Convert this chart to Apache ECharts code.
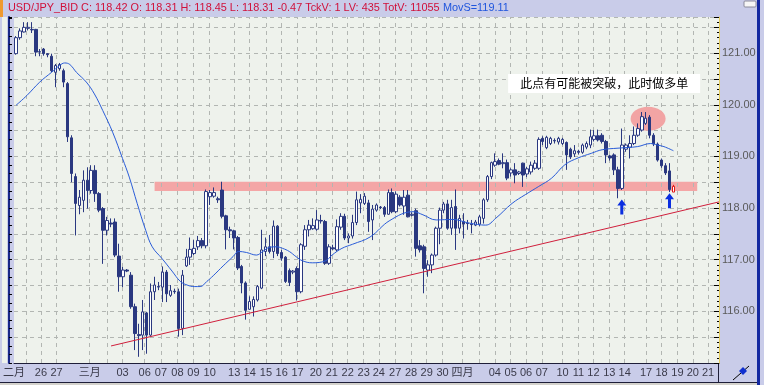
<!DOCTYPE html>
<html><head><meta charset="utf-8">
<script src="https://cdn.jsdelivr.net/npm/echarts@6/dist/echarts.min.js"></script>
<style>html,body{margin:0;padding:0;background:#c9cce9;}#c{width:764px;height:385px;}</style>
</head><body><div id="c"></div>
<script>
// ---- data ----
const opens = [120.99,121.30,121.41,121.48,121.46,121.46,121.02,121.08,120.99,120.94,
120.63,120.70,120.66,120.41,119.36,118.61,118.05,118.15,118.54,118.34,
118.73,118.28,117.99,117.57,117.71,117.73,117.07,116.67,116.80,116.70,
116.09,115.55,115.54,115.97,115.54,116.38,116.48,116.47,116.76,116.31,
116.39,116.38,115.67,116.88,117.05,117.12,117.25,117.37,117.27,118.22,
118.23,118.18,118.35,117.85,117.58,117.56,117.43,116.87,116.55,116.04,
116.09,116.22,116.45,117.16,117.25,117.16,117.65,117.14,117.05,116.79,
116.76,116.83,116.38,117.26,117.58,117.60,117.59,117.76,117.74,116.93,
117.23,117.19,117.63,117.84,117.42,117.46,117.72,118.10,118.09,118.10,
117.77,117.96,118.02,118.01,117.88,118.30,117.93,118.21,118.04,118.25,
117.86,117.95,117.27,117.25,116.80,116.90,117.09,117.61,117.96,118.08,
117.61,118.03,117.61,117.74,117.71,117.69,117.67,117.69,117.80,118.16,
118.61,118.83,118.92,118.86,118.88,118.68,118.74,118.67,118.87,118.66,
118.70,118.77,118.77,119.35,119.17,119.25,119.31,119.28,119.25,119.27,
119.14,119.05,119.10,119.08,119.18,119.22,119.33,119.40,119.41,119.29,
119.01,119.03,118.74,118.38,119.14,119.18,119.25,119.41,119.51,119.64,
119.76,119.41,119.24,118.93,118.82,118.72,118.31];
const closes = [121.30,121.43,121.50,121.50,121.45,121.02,121.03,120.99,120.97,120.66,
120.76,120.78,120.44,119.38,118.67,118.09,118.21,118.54,118.34,118.73,
118.28,117.96,117.57,117.76,117.69,117.09,116.67,116.80,116.78,116.09,
115.57,115.53,115.99,115.54,116.38,116.51,116.47,116.76,116.34,116.40,
116.38,115.67,116.70,117.05,117.20,117.22,117.37,117.27,118.32,118.30,
118.30,118.16,117.84,117.58,117.56,117.42,116.84,116.55,116.02,116.19,
116.23,116.48,117.19,117.25,117.16,117.65,117.12,117.03,116.58,116.56,
116.78,116.38,117.29,117.58,117.67,117.66,117.77,117.75,116.93,117.25,
117.21,117.64,117.84,117.42,117.46,117.72,118.16,118.17,118.23,117.74,
117.98,118.06,118.01,117.88,118.30,117.93,118.27,118.06,118.21,117.83,
117.88,117.22,117.19,116.83,116.90,117.09,117.61,117.96,118.08,117.61,
118.01,117.61,117.80,117.69,117.70,117.68,117.73,117.83,118.16,118.61,
118.88,118.90,118.85,118.88,118.58,118.74,118.64,118.70,118.64,118.76,
118.83,118.87,119.33,119.29,119.37,119.35,119.30,119.35,119.33,119.03,
118.99,119.11,119.08,119.22,119.25,119.38,119.40,119.32,119.29,119.03,
118.97,118.74,118.38,119.22,119.22,119.25,119.41,119.54,119.77,119.74,
119.41,119.24,118.93,118.82,118.68,118.36,118.42];
const lows = [120.97,121.26,121.40,121.44,121.39,120.94,120.94,120.95,120.92,120.63,
120.34,120.66,120.34,119.28,118.50,117.47,117.88,117.92,117.99,118.28,
118.12,117.92,116.92,117.47,117.63,117.05,116.38,116.47,116.76,116.05,
115.25,115.12,115.25,115.18,115.51,116.22,116.41,116.18,116.18,116.28,
116.34,115.51,115.54,116.86,116.90,117.09,117.19,117.22,117.22,118.06,
118.20,118.10,117.80,117.20,117.42,117.20,116.80,116.35,115.84,116.03,
115.90,116.19,116.43,117.07,117.12,117.03,117.07,116.98,116.55,116.49,
116.72,116.21,116.35,117.19,117.45,117.58,117.56,117.70,116.90,116.90,
117.19,117.16,117.58,117.38,117.32,117.41,117.67,117.90,118.06,117.54,
117.38,117.93,117.98,117.83,117.87,117.90,117.90,118.03,117.87,117.82,
117.84,117.06,117.14,116.35,116.67,116.74,117.06,117.30,117.90,117.58,
117.48,117.19,117.51,117.41,117.58,117.51,117.65,117.65,117.70,118.12,
118.56,118.80,118.83,118.77,118.54,118.61,118.48,118.64,118.41,118.60,
118.65,118.74,118.74,119.22,119.14,119.22,119.25,119.23,119.22,118.74,
118.95,118.99,119.04,119.05,119.14,119.16,119.29,119.29,119.25,118.87,
118.92,118.64,118.19,118.35,119.09,118.96,119.22,119.38,119.48,119.61,
119.35,119.20,118.90,118.78,118.64,118.31,118.31];
const highs = [121.33,121.48,121.60,121.60,121.60,121.47,121.08,121.10,121.00,120.99,
120.79,120.81,120.70,120.44,119.41,118.67,118.35,118.73,118.79,118.83,
118.83,118.31,118.02,117.83,117.80,117.80,117.31,116.86,116.82,116.76,
116.15,115.76,116.22,115.99,116.54,116.67,116.57,116.87,116.80,116.51,
116.44,116.44,116.80,117.21,117.43,117.38,117.46,117.42,118.36,118.35,
118.40,118.22,118.51,117.87,117.64,117.58,117.46,116.90,116.58,116.29,
116.29,116.51,117.58,117.43,117.48,117.76,117.67,117.19,117.07,116.83,
116.80,116.87,117.32,117.67,117.77,117.80,117.96,117.87,117.77,117.30,
117.29,117.78,117.90,117.89,117.51,117.87,118.32,118.27,118.29,118.16,
118.06,118.09,118.04,118.04,118.36,118.38,118.32,118.25,118.35,118.35,
117.92,117.99,117.38,117.29,116.99,117.12,117.64,118.01,118.12,118.16,
118.16,118.36,117.87,117.90,117.77,117.77,117.77,117.87,118.19,118.64,
118.90,119.06,118.96,119.06,118.94,118.77,118.87,118.72,118.88,118.80,
118.90,118.93,119.37,119.39,119.40,119.38,119.35,119.38,119.36,119.29,
119.17,119.22,119.13,119.25,119.29,119.52,119.51,119.52,119.45,119.32,
119.03,119.06,118.80,119.54,119.25,119.41,119.58,119.64,119.86,119.86,
119.80,119.45,119.27,118.96,118.87,118.87,118.45];

// moving average curve, read as (bar position, value)
const maX = [0,2.75,6,9,11,12.3,13.6,15.25,17.75,19.8,21.9,24.4,26.9,28.6,30.6,32.75,34.4,36.9,39.4,41.5,
43.2,45,46.5,48.2,49.8,52.3,54.8,56.2,58.2,60.7,62.3,64,65.7,67.3,69,70.7,72.3,74.8,78.2,79.8,
82.3,85,89.4,94.4,100.25,102.75,106.1,110.25,114.4,118.6,121.1,125.25,128.6,132,135.25,138.6,141.9,145.25,148,152,
156.9,160.25,162,163.6,166];
const maY = [119.99,120.18,120.44,120.63,120.76,120.81,120.78,120.63,120.44,120.21,119.89,119.47,118.96,118.60,118.09,117.57,117.25,117.02,116.78,116.58,
116.51,116.48,116.48,116.58,116.69,116.88,117.06,117.16,117.14,117.09,117.16,117.24,117.25,117.22,117.16,117.06,116.98,116.94,116.98,117.09,
117.22,117.30,117.44,117.76,117.93,117.87,117.77,117.78,117.71,117.67,117.80,118.09,118.26,118.42,118.58,118.84,118.97,119.06,119.13,119.16,
119.19,119.25,119.22,119.19,119.11];

// date labels along the bottom and where they sit (bar position)
const dayLabels = ['二月','26','27','三月','03','06','07','08','09','10','13','14','15','16','17','20','21','22','23','24',
'27','28','29','30','四月','04','05','06','07','10','11','12','13','14','17','18','19','20','21'];
const dayPos = [-0.5,6.3,10.25,18.6,26.9,32.5,36.6,40.75,44.8,48.9,55.1,59,63.1,67.1,71.1,75.7,79.75,83.75,87.8,91.6,
95.75,99.75,103.7,107.7,112.75,120.9,124.9,128.8,132.75,138,142,145.8,149.8,153.7,159.1,163,167,170.9,174.75];
const extraGridPos = [2.5, 23, 117];

// annotations
const trendX = [24, 177.5], trendY = [115.33, 118.12];
const bandX = [35, 172], bandY = [118.33, 118.51];
const ellipsePos = [159.6, 119.73];
const arrowX = [152.96, 165], arrowY = [118.02, 118.14];
const noteText = '此点有可能被突破，此时做多单';
const notePos = [148.5, 120.41];
const headerInfo = {name:'USD/JPY_BID', chg:'-0.47', tckv:'1', lv:'435', totv:'11055'};

const slotCount = 178;
const yMin = 115, yMax = 121.7;

// ---- chart ----
const last = opens.length - 1;
const plotBg = '#eef2ec', lav = '#c9cce9', navy = '#2a3880';
const gridLineStyle = {color:'#b2b6b2', type:[4,4], width:1};

function fontAvail(f){const c=document.createElement('canvas').getContext('2d');const s='USD/JPY_BID 118.42';c.font='20px monospace';const a=c.measureText(s).width;c.font='20px "'+f+'", monospace';return c.measureText(s).width!==a;}
const hdrFam = fontAvail('Liberation Sans Narrow') ? 'Liberation Sans Narrow' : 'Liberation Sans';
const hdrRed = `${headerInfo.name} C: ${closes[last].toFixed(2)} O: ${opens[last].toFixed(2)} H: ${highs[last].toFixed(2)} L: ${lows[last].toFixed(2)} ${headerInfo.chg} TckV: ${headerInfo.tckv} LV: ${headerInfo.lv} TotV: ${headerInfo.totv}`;
const hdrBlue = 'MovS=' + maY[maY.length-1].toFixed(2);
let hdrSize = 12;
{const c=document.createElement('canvas').getContext('2d');c.font='12px "'+hdrFam+'"';const w=c.measureText(hdrRed).width;hdrSize=Math.min(13.5,12*432/w);}

const candleData = opens.map((o,i)=>{
  const v=[o,closes[i],lows[i],highs[i]];
  if(i===last) return {value:v,itemStyle:{color:'#ffffff',borderColor:'#e01818',color0:'#ffffff',borderColor0:'#e01818'}};
  return v;
});
const gridPos = dayPos.slice(1).concat(extraGridPos);

const chart = echarts.init(document.getElementById('c'), null, {renderer:'canvas'});
chart.setOption({
  animation:false,
  backgroundColor: lav,
  grid:{left:7,right:45,top:17,bottom:22,show:true,backgroundColor:plotBg,borderWidth:0},
  xAxis:[
    {type:'category',data:Array.from({length:slotCount},(_,i)=>String(i)),show:false,boundaryGap:true},
    {type:'value',min:-0.5,max:slotCount-0.5,position:'bottom',
     axisLine:{show:true,onZero:false,lineStyle:{color:'#1e1e38',width:1}},
     axisTick:{show:true,inside:true,length:3,customValues:gridPos,lineStyle:{color:'#707070'}},
     axisLabel:{show:true,customValues:dayPos,margin:4,color:'#3a3a4a',fontSize:11,fontFamily:'"Liberation Sans","Noto Sans CJK SC"',
       formatter:(v)=>{for(let k=0;k<dayPos.length;k++){if(Math.abs(dayPos[k]-v)<1e-6)return dayLabels[k];}return '';}},
     splitLine:{show:false}}
  ],
  yAxis:[
    {type:'value',position:'right',min:yMin,max:yMax,interval:0.5,
     axisLine:{show:true,onZero:false,lineStyle:{color:'#e4cc5c',width:1}},
     axisTick:{show:true,inside:true,length:5,lineStyle:{color:'#000'}},
     minorTick:{show:true,splitNumber:5,length:2,lineStyle:{color:'#000'}},
     axisLabel:{margin:3,color:'#5a5a5a',fontSize:11,fontFamily:'Liberation Sans',
       formatter:(v)=>(Math.abs(v-Math.round(v))<1e-6 && v>yMin+0.01)?v.toFixed(2):''},
     splitLine:{show:true,lineStyle:gridLineStyle}},
    {type:'value',position:'left',offset:5,min:yMin,max:yMax,interval:0.5,
     axisLine:{show:true,onZero:false,lineStyle:{color:'#1a2888',width:2}},
     axisTick:{show:true,inside:true,length:3,lineStyle:{color:'#000'}},
     minorTick:{show:true,splitNumber:3,length:3,lineStyle:{color:'#000'}},
     axisLabel:{show:false},splitLine:{show:false}}
  ],
  series:[
    {type:'line',name:'vgrid',xAxisIndex:1,yAxisIndex:0,z:1,silent:true,symbol:'none',
     data:[[gridPos[0],yMin],[gridPos[0],yMin]],lineStyle:{opacity:0},
     markLine:{z:1,silent:true,symbol:'none',label:{show:false},lineStyle:gridLineStyle,
       data:gridPos.map(v=>({xAxis:v}))}},
    {type:'line',name:'band',xAxisIndex:1,yAxisIndex:0,z:2,silent:true,symbol:'none',
     data:[[bandX[0],bandY[1]],[bandX[1],bandY[1]]],lineStyle:{opacity:0},
     markArea:{z:1,silent:true,itemStyle:{color:'#f4a6a6'},
       data:[[{coord:[bandX[0],bandY[1]]},{coord:[bandX[1],bandY[0]]}]]},
     markPoint:{z:1,silent:true,symbol:'circle',symbolSize:[35,24],itemStyle:{color:'#f2a4a4'},label:{show:false},
       data:[{coord:ellipsePos}]}},
    {type:'candlestick',name:'USDJPY',xAxisIndex:0,yAxisIndex:0,z:3,barWidth:3,
     itemStyle:{color:'#ffffff',color0:navy,borderColor:navy,borderColor0:navy,borderWidth:1},
     data:candleData,
     markLine:{silent:true,symbol:'none',lineStyle:{opacity:0},
       label:{show:true,position:'end',distance:1,formatter:closes[last].toFixed(2),color:'#fff',
         backgroundColor:'#e00000',borderColor:'#400',borderWidth:1,padding:[1,2,0,2],fontSize:11,fontFamily:'Liberation Sans'},
       data:[{yAxis:closes[last]}]}},
    {type:'line',name:'MovS',xAxisIndex:1,yAxisIndex:0,z:4,symbol:'none',smooth:0.4,
     data:maX.map((x,i)=>[x,maY[i]]),lineStyle:{color:'#2a5cd8',width:1}},
    {type:'line',name:'trend',xAxisIndex:1,yAxisIndex:0,z:4,symbol:'none',
     data:trendX.map((x,i)=>[x,trendY[i]]),lineStyle:{color:'#d01f3c',width:1}},
    {type:'scatter',name:'arrows',xAxisIndex:1,yAxisIndex:0,z:5,silent:true,
     symbol:'path://M4.5,0 L9,6 L6,6 L6,15 L3,15 L3,6 L0,6 Z',symbolSize:[9,15],
     itemStyle:{color:'#0a2ee0',opacity:1},data:arrowX.map((x,i)=>[x,arrowY[i]])},
    {type:'scatter',name:'note',xAxisIndex:1,yAxisIndex:0,z:5,silent:true,
     symbol:'rect',symbolSize:[192,19],itemStyle:{color:'#ffffff',opacity:1},
     label:{show:true,position:'inside',formatter:noteText,color:'#000',fontSize:12,fontFamily:'"Noto Sans CJK SC"'},
     data:[notePos]}
  ],
  graphic:[
    {type:'rect',z:-10,shape:{x:2,y:17,width:5,height:346},style:{fill:plotBg}},
    {type:'rect',shape:{x:0,y:0,width:3,height:17},style:{fill:'#f09a30'}},
    {type:'text',x:8,y:8,style:{text:'{r|'+hdrRed+'} {b|'+hdrBlue+'}',verticalAlign:'middle',
      rich:{r:{fill:'#d0103a',fontSize:hdrSize,fontFamily:hdrFam},b:{fill:'#1f55dd',fontSize:hdrSize,fontFamily:hdrFam}}}},
    {type:'rect',shape:{x:757,y:0,width:3,height:385},style:{fill:'#1428a0'}},
    {type:'rect',shape:{x:744,y:1,width:12,height:6,r:1},style:{fill:'#f6f6f6',stroke:'#8a8a9a',lineWidth:1}},
    {type:'rect',shape:{x:718,y:363,width:1,height:19},style:{fill:'#1e1e38'}},
    {type:'rect',shape:{x:0,y:382,width:757,height:1},style:{fill:'#1e1e38'}},
    {type:'rect',shape:{x:0,y:383,width:757,height:2},style:{fill:'#d4d2cc'}},
    {type:'line',shape:{x1:733,y1:380,x2:749,y2:366},style:{stroke:'#000',lineWidth:1}},
    {type:'polygon',shape:{points:[[743,367],[747,371],[743,375],[739,371]]},style:{fill:'#1030d0'}}
  ]
});
</script>
</body></html>
